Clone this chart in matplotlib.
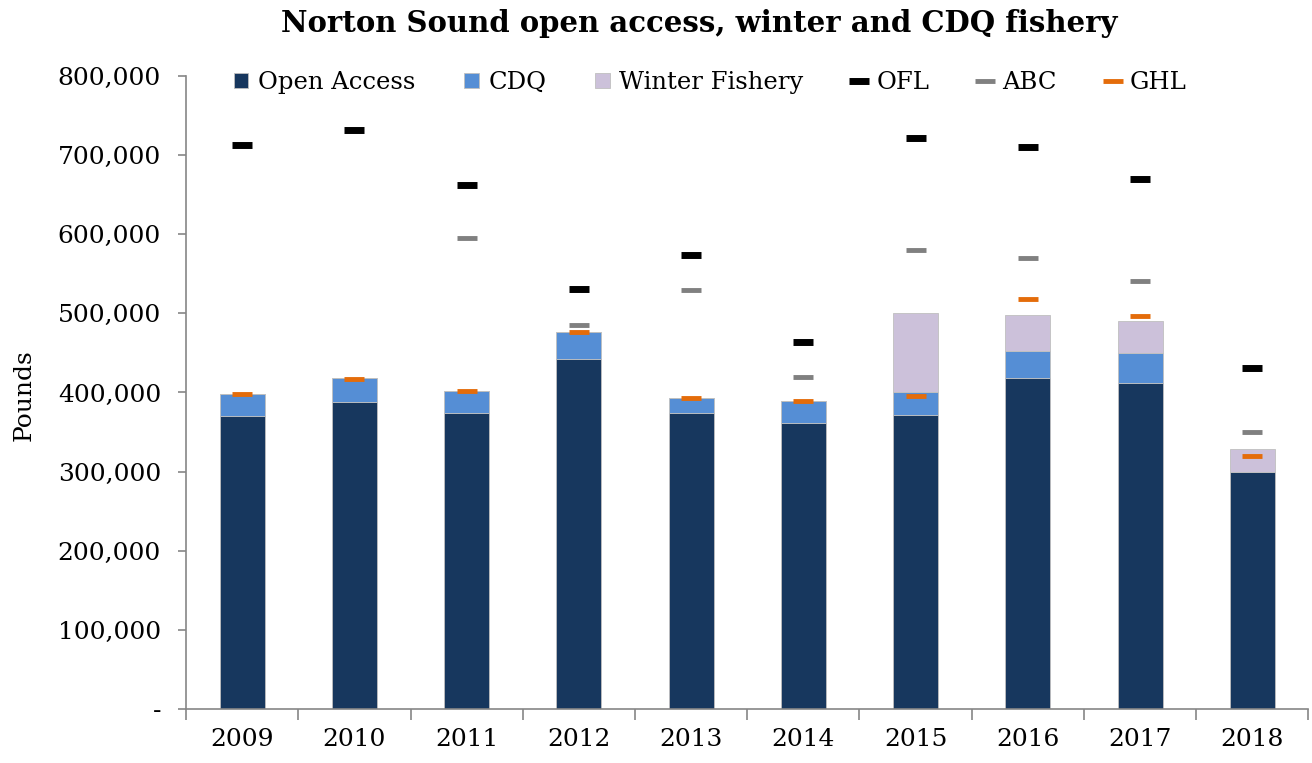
import numpy as np
import matplotlib.pyplot as plt
from matplotlib.ticker import FuncFormatter

years = ['2009', '2010', '2011', '2012', '2013', '2014', '2015', '2016', '2017', '2018']
open_access = [370000, 388000, 374000, 442000, 374000, 362000, 372000, 418000, 412000, 299000]
cdq = [28000, 30000, 28000, 35000, 19000, 27000, 29000, 34000, 38000, 0]
winter = [0, 0, 0, 0, 0, 0, 100000, 46000, 40000, 29000]
ofl = [713000, 732000, 662000, 531000, 574000, 464000, 722000, 710000, 670000, 431000]
abc = [np.nan, np.nan, 595000, 485000, 529000, 420000, 580000, 570000, 541000, 350000]
ghl = [398000, 417000, 402000, 477000, 393000, 389000, 395000, 518000, 497000, 320000]

plt.rcParams['font.family'] = ['DejaVu Serif']

fig = plt.figure(figsize=(13.12, 7.63), dpi=100)
ax = fig.add_axes([0.1418, 0.0708, 0.8555, 0.8296])

X = np.arange(len(years))
oa = np.array(open_access)
cd = np.array(cdq)
wi = np.array(winter)

edge = '#BFBFBF'
b1 = ax.bar(X, oa, 0.4, color='#17375E', edgecolor=edge, linewidth=0.6, label='Open Access')
b2 = ax.bar(X, cd, 0.4, bottom=oa, color='#558ED5', edgecolor=edge, linewidth=0.6, label='CDQ')
b3 = ax.bar(X, wi, 0.4, bottom=oa + cd, color='#CCC1DA', edgecolor=edge, linewidth=0.6, label='Winter Fishery')

# 参考点用短横线标记
l1, = ax.plot(X, ofl, ls='none', marker='_', ms=15, mew=5, color='black', label='OFL')
l2, = ax.plot(X, abc, ls='none', marker='_', ms=15, mew=3.5, color='#808080', label='ABC')
l3, = ax.plot(X, ghl, ls='none', marker='_', ms=15, mew=3.5, color='#E46C0A', label='GHL')

ax.set_xlim(-0.5, 9.5)
ax.set_ylim(0, 800000)
ax.set_xticks(X)
ax.set_xticklabels(years, fontsize=18)
ax.set_xticks(np.arange(-0.5, 10, 1), minor=True)
ax.tick_params(axis='x', which='major', length=0, pad=14)
ax.tick_params(axis='x', which='minor', length=8, color='#868686', width=1.2)
ax.set_yticks(np.arange(0, 800001, 100000))
ax.yaxis.set_major_formatter(FuncFormatter(lambda v, p: '-' if v == 0 else '{:,.0f}'.format(v)))
ax.tick_params(axis='y', labelsize=18, length=6, color='#868686', width=1.2, pad=12)

for s in ['top', 'right']:
    ax.spines[s].set_visible(False)
for s in ['left', 'bottom']:
    ax.spines[s].set_color('#868686')
    ax.spines[s].set_linewidth(1.2)

ax.set_ylabel('Pounds', fontsize=18)
ax.yaxis.set_label_coords(-0.134, 0.496)
fig.text(0.533, 0.969, 'Norton Sound open access, winter and CDQ fishery',
         fontsize=21, fontweight='bold', ha='center', va='center')

ax.legend([b1, b2, b3, l1, l2, l3], ['Open Access', 'CDQ', 'Winter Fishery', 'OFL', 'ABC', 'GHL'],
          loc='center', bbox_to_anchor=(0.467, 0.99), ncol=6, frameon=False, fontsize=17.5,
          handlelength=0.6, handleheight=0.6, handletextpad=0.4, columnspacing=2.0, numpoints=1)

plt.savefig('out.png', dpi=100)
